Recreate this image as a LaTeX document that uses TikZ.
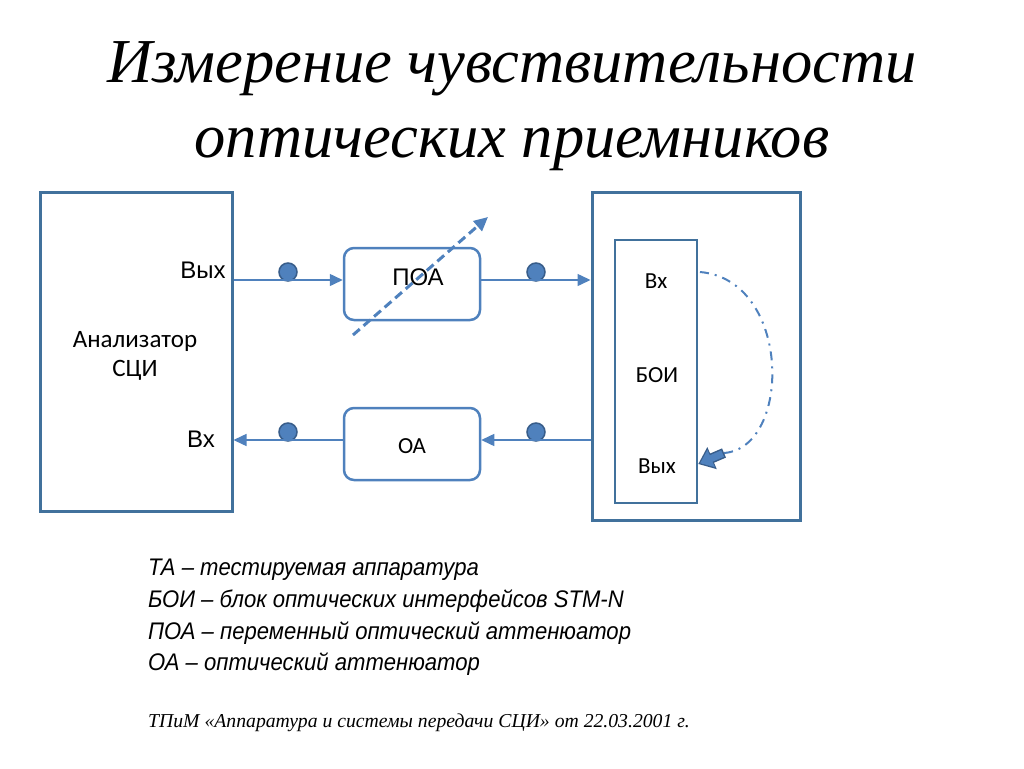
\documentclass[tikz,border=0pt]{standalone}
\usepackage{fontspec}
\setmainfont{Liberation Serif}
\newfontfamily\arialfont{Liberation Sans}
\newfontfamily\arialnarrow[FakeStretch = 0.92]{Liberation Sans}
\newfontfamily\calibrifont{Carlito}
\usepackage{xcolor}
\usetikzlibrary{arrows.meta}
\definecolor{customcolor1}{HTML}{4f81bd}
\definecolor{customcolor2}{HTML}{41719c}
\definecolor{customcolor3}{HTML}{385d8a}

\begin{document}
\begin{tikzpicture}
        \useasboundingbox (0pt, 0pt) rectangle (1024pt, -768pt);
        % Title
        \node [anchor = base, font = \itshape\fontsize{62.5}{62.5}\selectfont] (t1) at (512pt, -82pt) {Измерение чувствительности};
        \node [anchor = base, font = \itshape\fontsize{62.5}{62.5}\selectfont] (t2) at (512pt, -157pt) {оптических приемников};

        % Nodes
        \node [draw = customcolor2, line width = 3pt, rectangle, minimum width = 192pt, minimum height = 319pt] (a) at (136pt, -351.5pt) {};
        \node [draw = customcolor1, line width = 2.5pt, rectangle, rounded corners = 10pt, minimum width = 136pt, minimum height = 72pt] (b) at (412pt, -284pt) {};
        \node [draw = customcolor1, line width = 2.5pt, rectangle, rounded corners = 10pt, minimum width = 136pt, minimum height = 72pt] (c) at (412pt, -444pt) {};
        \node [draw = customcolor2, line width = 3pt, rectangle, minimum width = 208pt, minimum height = 328pt] (d) at (696pt, -356pt) {};
        \node [draw = customcolor2, line width = 2.5pt, rectangle, minimum width = 82pt, minimum height = 263pt] (e) at (656pt, -371.5pt) {};

        % Connector points
        \node [fill = customcolor1, draw = customcolor3, line width = 1.5pt, circle, inner sep = 0pt, minimum size = 18pt] (p1) at (288pt, -272pt) {};
        \node [fill = customcolor1, draw = customcolor3, line width = 1.5pt, circle, inner sep = 0pt, minimum size = 18pt] (p2) at (536pt, -272pt) {};
        \node [fill = customcolor1, draw = customcolor3, line width = 1.5pt, circle, inner sep = 0pt, minimum size = 18pt] (p3) at (288pt, -432pt) {};
        \node [fill = customcolor1, draw = customcolor3, line width = 1.5pt, circle, inner sep = 0pt, minimum size = 18pt] (p4) at (536pt, -432pt) {};
        \coordinate (aout) at (a.east |- 0pt, -280pt);
        \coordinate (ain) at (a.east |- 0pt, -440pt);
        \coordinate (din) at (d.west |- aout);
        \coordinate (dout) at (d.west |- ain);
        \coordinate (v1) at (353pt, -335pt);
        \coordinate (v2) at (488pt, -217pt);
        \coordinate (l1) at (700pt, -272pt);
        \coordinate (l2) at (724pt, -453pt);
        \coordinate (l3) at (e.east |- 0pt, -464pt);

        % Draw the links
        \draw [-{Triangle[length = 13pt, width = 12pt]}, line width = 1.5pt, color = customcolor1] (aout) -- (b.west |- aout);
        \draw [-{Triangle[length = 13pt, width = 12pt]}, line width = 1.5pt, color = customcolor1] (b.east |- aout) -- (din);
        \draw [-{Triangle[length = 13pt, width = 12pt]}, line width = 1.5pt, color = customcolor1] (dout) -- (c.east |- dout);
        \draw [-{Triangle[length = 13pt, width = 12pt]}, line width = 1.5pt, color = customcolor1] (c.west |- ain) -- (ain);
        \draw [-{Triangle[length = 14pt, width = 13pt]}, line width = 3pt, dash pattern = on 9pt off 5pt, color = customcolor1] (v1) -- (v2);
        \draw [line width = 2pt, dash pattern = on 9pt off 6pt on 2pt off 6pt, color = customcolor1] (l1) .. controls (792pt, -280pt) and (792pt, -448pt) .. (l2);
        \draw [-{Triangle[length = 15pt, width = 23pt]}, line width = 10pt, color = customcolor3] (l2) -- (l3);
        \draw [-{Triangle[length = 12pt, width = 18pt]}, line width = 7pt, color = customcolor1, shorten >= 2pt, shorten <= 1.5pt] (l2) -- (l3);

        % Labels
        \node [anchor = base, inner sep = 0pt, font = \calibrifont\fontsize{25}{30}\selectfont] (an1) at (135pt, -347pt) {Анализатор};
        \node [anchor = base, inner sep = 0pt, font = \calibrifont\fontsize{25}{30}\selectfont] (an2) at (135pt, -376pt) {СЦИ};
        \node [anchor = base, inner sep = 0pt, font = \arialfont\fontsize{24}{28}\selectfont] (o1) at (203pt, -278pt) {Вых};
        \node [anchor = base, inner sep = 0pt, font = \arialfont\fontsize{24}{28}\selectfont] (i1) at (201pt, -447pt) {Вх};
        \node [anchor = base, inner sep = 0pt, font = \arialfont\fontsize{24}{28}\selectfont] (bl) at (418pt, -285pt) {ПОА};
        \node [anchor = base, inner sep = 0pt, font = \calibrifont\fontsize{23}{28}\selectfont] (cl) at (412pt, -453pt) {ОА};
        \node [anchor = base, inner sep = 0pt, font = \calibrifont\fontsize{23}{28}\selectfont] (i2) at (656pt, -288pt) {Вх};
        \node [anchor = base, inner sep = 0pt, font = \calibrifont\fontsize{23}{28}\selectfont] (el) at (657pt, -382pt) {БОИ};
        \node [anchor = base, inner sep = 0pt, font = \calibrifont\fontsize{23}{28}\selectfont] (o2) at (657pt, -473pt) {Вых};

        % Legend
        \node [anchor = base west, inner sep = 0pt, font = \arialnarrow\itshape\fontsize{24}{30}\selectfont] (g1) at (148pt, -575pt) {ТА – тестируемая аппаратура};
        \node [anchor = base west, inner sep = 0pt, font = \arialnarrow\itshape\fontsize{24}{30}\selectfont] (g2) at (148pt, -607pt) {БОИ – блок оптических интерфейсов STM-N};
        \node [anchor = base west, inner sep = 0pt, font = \arialnarrow\itshape\fontsize{24}{30}\selectfont] (g3) at (148pt, -639pt) {ПОА – переменный оптический аттенюатор};
        \node [anchor = base west, inner sep = 0pt, font = \arialnarrow\itshape\fontsize{24}{30}\selectfont] (g4) at (148pt, -670pt) {ОА – оптический аттенюатор};
        \node [anchor = base west, inner sep = 0pt, font = \itshape\fontsize{19.7}{24}\selectfont] (src) at (148pt, -727pt) {ТПиМ «Аппаратура и системы передачи СЦИ» от 22.03.2001 г.};

    \end{tikzpicture}
\end{document}
